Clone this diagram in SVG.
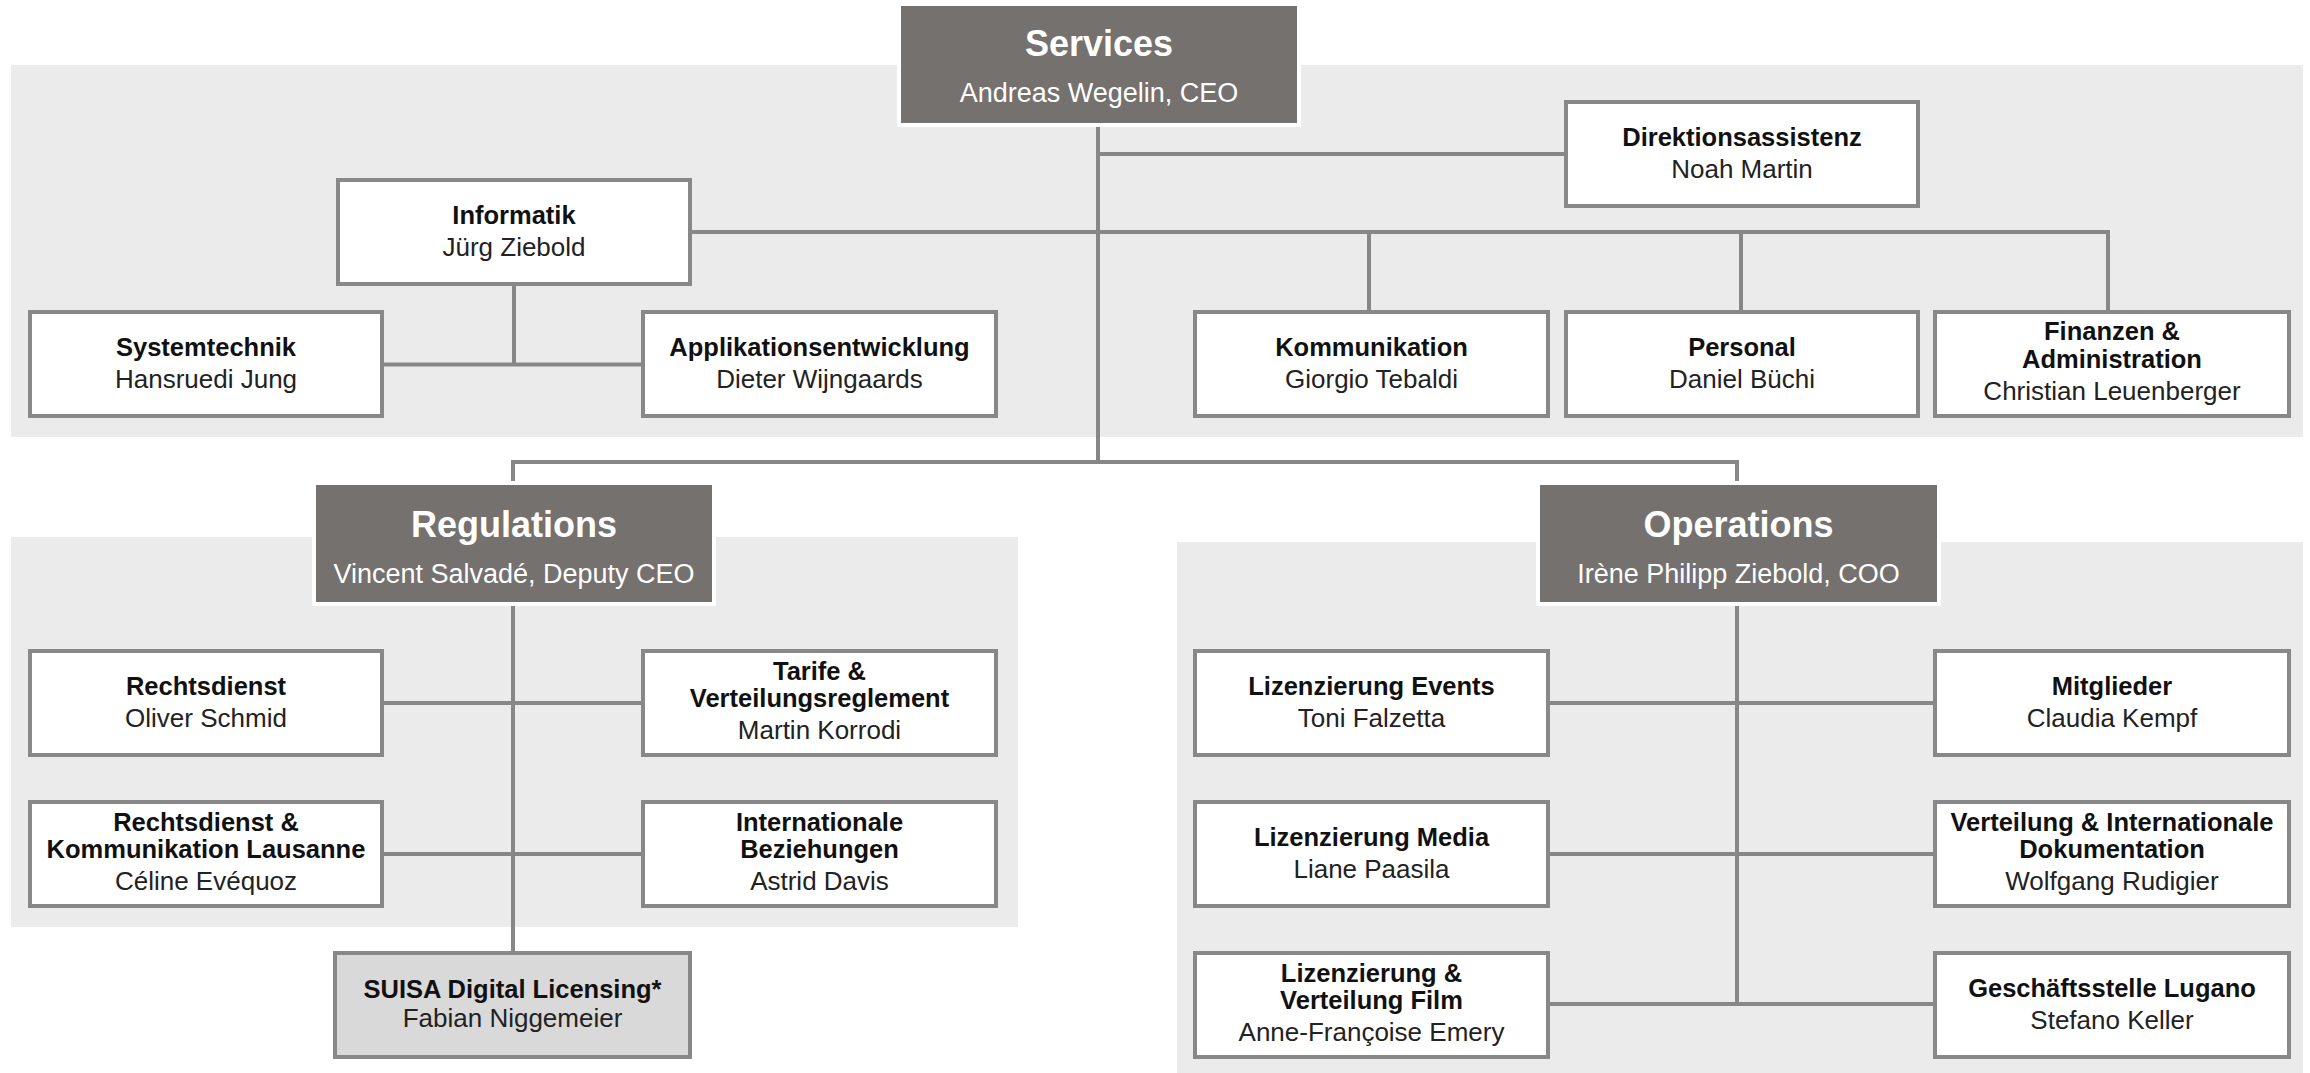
<svg xmlns="http://www.w3.org/2000/svg" width="2310" height="1073" viewBox="0 0 2310 1073">
<style>
.panel{fill:#ebebeb}
.conn{fill:none;stroke:#878787;stroke-width:4}
.box{fill:#ffffff;stroke:#888888;stroke-width:4}
.box.grey{fill:#d9d9d9}
.head{fill:#75716f;stroke:#ffffff;stroke-width:4}
text{font-family:"Liberation Sans",Arial,sans-serif;text-anchor:middle}
.b{font-weight:bold;font-size:25.5px;fill:#111111}
.r{font-size:26px;fill:#222222}
.ht{font-weight:bold;font-size:36px;fill:#ffffff}
.hs{font-size:27px;fill:#ffffff}
</style>
<rect width="2310" height="1073" fill="#ffffff"/>
<g id="panels">
<rect class="panel" x="11" y="65" width="2292" height="372"/>
<rect class="panel" x="11" y="537" width="1007" height="390"/>
<rect class="panel" x="1177" y="542" width="1126" height="531"/>
</g>
<g id="connectors">
<path class="conn" d="M1098 123V462"/>
<path class="conn" d="M1098 154H1566"/>
<path class="conn" d="M690 232H2108V312"/>
<path class="conn" d="M1369 232V312"/>
<path class="conn" d="M1741 232V312"/>
<path class="conn" d="M514 284V364.5"/>
<path class="conn" d="M382 364.5H643"/>
<path class="conn" d="M513 485V462H1737V485"/>
<path class="conn" d="M513 602V953"/>
<path class="conn" d="M382 703H643"/>
<path class="conn" d="M382 854H643"/>
<path class="conn" d="M1737 602V1004"/>
<path class="conn" d="M1548 703H1935"/>
<path class="conn" d="M1548 854H1935"/>
<path class="conn" d="M1548 1004H1935"/>
</g>
<g id="services">
<rect class="head" x="899" y="4" width="400" height="121"/>
<text class="ht" x="1099" y="56">Services</text>
<text class="hs" x="1099" y="102">Andreas Wegelin, CEO</text>
</g>
<g id="regulations">
<rect class="head" x="314" y="483" width="400" height="121"/>
<text class="ht" x="514" y="537">Regulations</text>
<text class="hs" x="514" y="583">Vincent Salvadé, Deputy CEO</text>
</g>
<g id="operations">
<rect class="head" x="1538" y="483" width="401" height="121"/>
<text class="ht" x="1738.5" y="537">Operations</text>
<text class="hs" x="1738.5" y="583">Irène Philipp Ziebold, COO</text>
</g>
<g id="direktionsassistenz">
<rect class="box" x="1566" y="102" width="352" height="104"/>
<text class="b" x="1742" y="146">Direktionsassistenz</text>
<text class="r" x="1742" y="178">Noah Martin</text>
</g>
<g id="informatik">
<rect class="box" x="338" y="180" width="352" height="104"/>
<text class="b" x="514" y="224">Informatik</text>
<text class="r" x="514" y="256">Jürg Ziebold</text>
</g>
<g id="systemtechnik">
<rect class="box" x="30" y="312" width="352" height="104"/>
<text class="b" x="206" y="356">Systemtechnik</text>
<text class="r" x="206" y="388">Hansruedi Jung</text>
</g>
<g id="applikationsentwicklung">
<rect class="box" x="643" y="312" width="353" height="104"/>
<text class="b" x="819.5" y="356">Applikationsentwicklung</text>
<text class="r" x="819.5" y="388">Dieter Wijngaards</text>
</g>
<g id="kommunikation">
<rect class="box" x="1195" y="312" width="353" height="104"/>
<text class="b" x="1371.5" y="356">Kommunikation</text>
<text class="r" x="1371.5" y="388">Giorgio Tebaldi</text>
</g>
<g id="personal">
<rect class="box" x="1566" y="312" width="352" height="104"/>
<text class="b" x="1742" y="356">Personal</text>
<text class="r" x="1742" y="388">Daniel Büchi</text>
</g>
<g id="finanzen">
<rect class="box" x="1935" y="312" width="354" height="104"/>
<text class="b" x="2112" y="340">Finanzen &amp;</text>
<text class="b" x="2112" y="368">Administration</text>
<text class="r" x="2112" y="400">Christian Leuenberger</text>
</g>
<g id="rechtsdienst">
<rect class="box" x="30" y="651" width="352" height="104"/>
<text class="b" x="206" y="695">Rechtsdienst</text>
<text class="r" x="206" y="727">Oliver Schmid</text>
</g>
<g id="tarife">
<rect class="box" x="643" y="651" width="353" height="104"/>
<text class="b" x="819.5" y="680">Tarife &amp;</text>
<text class="b" x="819.5" y="707">Verteilungsreglement</text>
<text class="r" x="819.5" y="739">Martin Korrodi</text>
</g>
<g id="rechtsdienst-lausanne">
<rect class="box" x="30" y="802" width="352" height="104"/>
<text class="b" x="206" y="831">Rechtsdienst &amp;</text>
<text class="b" x="206" y="858">Kommunikation Lausanne</text>
<text class="r" x="206" y="890">Céline Evéquoz</text>
</g>
<g id="internationale-beziehungen">
<rect class="box" x="643" y="802" width="353" height="104"/>
<text class="b" x="819.5" y="831">Internationale</text>
<text class="b" x="819.5" y="858">Beziehungen</text>
<text class="r" x="819.5" y="890">Astrid Davis</text>
</g>
<g id="suisa-digital-licensing">
<rect class="box grey" x="335" y="953" width="355" height="104"/>
<text class="b" x="512.5" y="998">SUISA Digital Licensing*</text>
<text class="r" x="512.5" y="1027">Fabian Niggemeier</text>
</g>
<g id="lizenzierung-events">
<rect class="box" x="1195" y="651" width="353" height="104"/>
<text class="b" x="1371.5" y="695">Lizenzierung Events</text>
<text class="r" x="1371.5" y="727">Toni Falzetta</text>
</g>
<g id="mitglieder">
<rect class="box" x="1935" y="651" width="354" height="104"/>
<text class="b" x="2112" y="695">Mitglieder</text>
<text class="r" x="2112" y="727">Claudia Kempf</text>
</g>
<g id="lizenzierung-media">
<rect class="box" x="1195" y="802" width="353" height="104"/>
<text class="b" x="1371.5" y="846">Lizenzierung Media</text>
<text class="r" x="1371.5" y="878">Liane Paasila</text>
</g>
<g id="verteilung-dokumentation">
<rect class="box" x="1935" y="802" width="354" height="104"/>
<text class="b" x="2112" y="831">Verteilung &amp; Internationale</text>
<text class="b" x="2112" y="858">Dokumentation</text>
<text class="r" x="2112" y="890">Wolfgang Rudigier</text>
</g>
<g id="lizenzierung-film">
<rect class="box" x="1195" y="953" width="353" height="104"/>
<text class="b" x="1371.5" y="982">Lizenzierung &amp;</text>
<text class="b" x="1371.5" y="1009">Verteilung Film</text>
<text class="r" x="1371.5" y="1041">Anne-Françoise Emery</text>
</g>
<g id="geschaeftsstelle-lugano">
<rect class="box" x="1935" y="953" width="354" height="104"/>
<text class="b" x="2112" y="997">Geschäftsstelle Lugano</text>
<text class="r" x="2112" y="1029">Stefano Keller</text>
</g>
</svg>
